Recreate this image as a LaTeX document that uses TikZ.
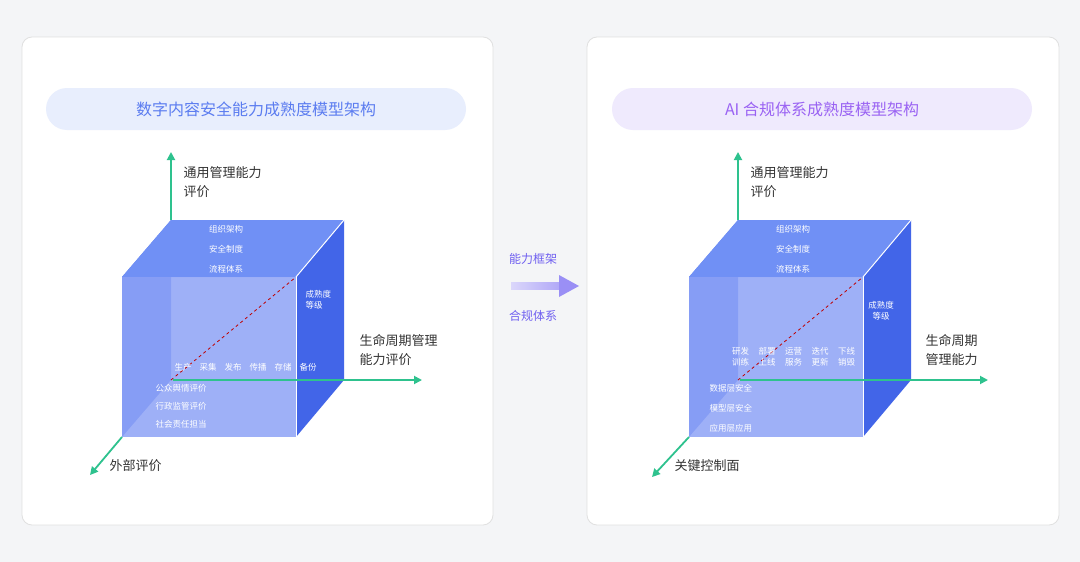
\documentclass[tikz,border=0pt]{standalone}
\usepackage{fontspec}
\setmainfont{Noto Sans CJK SC}
\usetikzlibrary{positioning,arrows.meta}
\definecolor{pagebg}{HTML}{F4F5F7}
\definecolor{axisgreen}{HTML}{2EC28E}
\definecolor{topface}{HTML}{7090F5}
\definecolor{leftface}{HTML}{5F7FF0}
\definecolor{frontface}{HTML}{8EA3F6}
\definecolor{rightface}{HTML}{4265E8}
\definecolor{txt}{HTML}{333333}
\definecolor{pillblue}{HTML}{E8EEFD}
\definecolor{textblue}{HTML}{5B7CF0}
\definecolor{pillviolet}{HTML}{EFEAFD}
\definecolor{textviolet}{HTML}{9A63F3}
\definecolor{midtext}{HTML}{6F5FF0}
\tikzset{panel/.style={draw=black!12,fill=white,rounded corners=10pt,line width=0.8pt},
	 pill/.style={rounded corners=21pt,minimum width=420pt,minimum height=42pt,font=\fontsize{16}{18}\selectfont},
	 axis/.style={draw=axisgreen,line width=1.8pt,-{Triangle[length=8pt,width=8pt]}},
	 lbl/.style={text=txt,font=\fontsize{13}{19}\selectfont,align=left,anchor=west},
	 tiny/.style={text=white,font=\fontsize{8.5}{11}\selectfont,align=center}
	 }
% cube shapes, shifted by #1
\newcommand\drawcube[1]{
 \begin{scope}[xshift=#1]
	\coordinate (o) at (171,380); \coordinate (bt) at (171,220); \coordinate (br) at (344,220);
	\coordinate (bb) at (344,380); \coordinate (fa) at (122,277); \coordinate (fb) at (296,277);
	\coordinate (fc) at (296,437); \coordinate (fd) at (122,437);
	\draw[axis] (bt) -- ++(0,-68);
	\fill[leftface] (fa) -- (bt) -- (o) -- (fd) -- cycle;
	\fill[topface] (fa) -- (bt) -- (br) -- (fb) -- cycle;
	\fill[frontface,opacity=0.85] (fa) -- (fb) -- (fc) -- (fd) -- cycle;
	\fill[rightface] (fb) -- (br) -- (bb) -- (fc) -- cycle;
	\draw[white,line width=1pt] (fb) -- (br); \draw[white,line width=1pt] (fb) -- (fc);
	\draw[red!75!black,dashed,line width=0.8pt] (o) -- (fb);
 \end{scope}}
\begin{document}
\begin{tikzpicture}[x=1pt,y=-1pt]
	\fill[pagebg] (0,0) rectangle (1080,562);
	\useasboundingbox (0,0) rectangle (1080,562);
	\draw[panel] (22,37) rectangle (493,525);
	\draw[panel] (587,37) rectangle (1059,525);
	\node[pill,fill=pillblue,text=textblue] (t1) at (256,109) {数字内容安全能力成熟度模型架构};
	\node[pill,fill=pillviolet,text=textviolet] (t2) at (822,109) {AI 合规体系成熟度模型架构};

	% middle
	\node[text=midtext,font=\fontsize{12}{14}\selectfont] (m1) at (533,259) {能力框架};
	\node[text=midtext,font=\fontsize{12}{14}\selectfont] (m2) at (533,316) {合规体系};
	\coordinate (ma) at (511,286); \coordinate (mb) at (579,286);
	\shade[left color=midtext!25!white,right color=midtext!55!white] (511,282.5) rectangle (561,289.5);
	\fill[midtext!70!white] (mb) -- ++(-20,-11) -- ++(0,22) -- cycle;

	% left cube
	\drawcube{0}
	\coordinate (ox) at (173,380); \coordinate (od) at (122,437);
	\draw[axis] (ox) -- (422,380);
	\draw[axis] (od) -- (90,475);
	\foreach \t [count=\i] in {组织架构,安全制度,流程体系}
	  \node[tiny] (lt\i) at (226,209+20*\i) {\t};
	\node[tiny,anchor=north west,align=left] (lm) at (302,287) {成熟度\\等级};
	\foreach \t [count=\i] in {生产,采集,发布,传播,存储,备份}
	  \node[tiny] (lc\i) at (158+25*\i,367) {\t};
	\foreach \t [count=\i] in {公众舆情评价,行政监管评价,社会责任担当}
	  \node[tiny,anchor=west] (le\i) at (152,370+18*\i) {\t};
	\node[lbl] (ly) at (180,182) {通用管理能力\\评价};
	\node[lbl] (lx) at (356,350) {生命周期管理\\能力评价};
	\node[lbl] (lz) at (106,466) {外部评价};

	% right cube
	\drawcube{567}
	\coordinate (rox) at (740,380); \coordinate (rod) at (689,437);
	\draw[axis] (rox) -- (988,380);
	\draw[axis] (rod) -- (652,477);
	\foreach \t [count=\i] in {组织架构,安全制度,流程体系}
	  \node[tiny] (rt\i) at (793,209+20*\i) {\t};
	\node[tiny] (rm) at (881,311) {成熟度\\等级};
	\foreach \t [count=\i] in {研发\\训练,部署\\上线,运营\\服务,迭代\\更新,下线\\销毁}
	  \node[tiny] (rc\i) at (714+26.5*\i,357) {\t};
	\foreach \t [count=\i] in {数据层安全,模型层安全,应用层应用}
	  \node[tiny,anchor=west] (re\i) at (706,368+20*\i) {\t};
	\node[lbl] (ry) at (747,182) {通用管理能力\\评价};
	\node[lbl] (rx) at (922,350) {生命周期\\管理能力};
	\node[lbl] (rz) at (671,466) {关键控制面};
\end{tikzpicture}
\end{document}
